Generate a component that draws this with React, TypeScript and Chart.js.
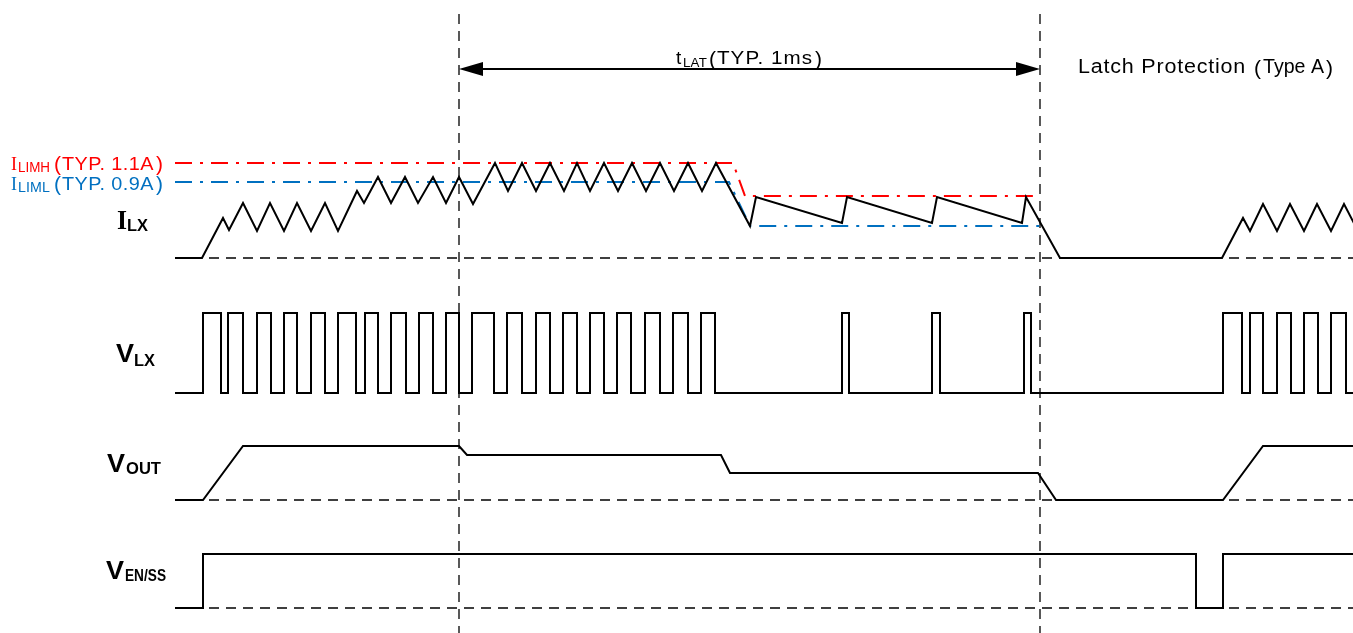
import React, { useEffect, useRef } from 'react';
import { Chart, registerables } from 'chart.js';
Chart.register(...registerables);

// Diagram domain: time axis 0..1353, level axis 0..633 (top = 0)
const X_MAX = 1353;
const Y_MAX = 633;

// I_LX inductor current waveform (time, level)
const ilxTimes = [
  175, 202, 223, 229, 243, 257, 270, 284, 297, 311,
  325, 338, 357, 364, 378, 391, 405, 418, 433, 446,
  459, 473, 495, 508, 522, 536, 550, 564, 577, 590,
  604, 618, 632, 646, 660, 674, 688, 702, 716, 750,
  756, 842, 847, 932, 937, 1022, 1026, 1060, 1222, 1243,
  1250, 1263, 1277, 1290, 1304, 1317, 1331, 1344, 1358,
];
const ilxLevels = [
  258, 258, 218, 230, 203, 231, 203, 231, 203, 231,
  203, 231, 191, 203, 177, 203, 177, 203, 177, 203,
  177, 204, 163, 191, 163, 191, 163, 191, 163, 191,
  163, 191, 163, 191, 163, 191, 163, 191, 163, 226,
  197, 223, 197, 223, 197, 223, 197, 258, 258, 218,
  231, 204, 231, 204, 231, 204, 231, 204, 231,
];

// V_LX switching pulses: [rise, fall]
const vlxLow = 393;
const vlxHigh = 313;
const vlxStart = 175;
const vlxPulses = [
  [203, 221], [228, 243], [257, 271], [284, 297], [311, 325], [338, 356], [365, 378],
  [391, 406], [419, 433], [446, 459], [472, 494], [507, 522], [536, 550], [563, 577],
  [590, 604], [617, 631], [645, 660], [673, 688], [701, 715], [842, 849], [932, 940],
  [1024, 1031], [1223, 1242], [1250, 1263], [1277, 1291], [1304, 1318], [1331, 1346],
];

// V_OUT
const voutTimes = [175, 203, 243, 459, 467, 721, 730, 1038, 1056, 1223, 1263, 1358];
const voutLevels = [500, 500, 446, 446, 455, 455, 473, 473, 500, 500, 446, 446];

// V_EN/SS (stepped)
const venTimes = [175, 203, 1196, 1223, 1358];
const venLevels = [608, 554, 608, 554, 554];

// Current limit thresholds
const ilimhTimes = [175, 733, 745, 1037];
const ilimhLevels = [163, 163, 196, 196];
const ilimlTimes = [175, 729, 750, 1040];
const ilimlLevels = [182, 182, 226, 226];

// Reference (ground) levels and event markers
const groundLevels = [258, 500, 608];
const groundStart = 175;
const markerTimes = [459, 1040];
const markerTop = 14;

// t_LAT arrow
const arrowStart = 461;
const arrowEnd = 1038;
const arrowLevel = 69;

// Labels
const signalMain = ['I', 'V', 'V', 'V'];
const signalSub = ['LX', 'LX', 'OUT', 'EN/SS'];
const limitSubs = ['LIMH', 'LIML'];
const limitTexts = ['TYP. 1.1A', 'TYP. 0.9A'];
const latTexts = ['t', 'LAT', 'TYP. 1ms'];
const latchTexts = ['Latch Protection', 'Type A'];

const RED = '#FF0000';
const BLUE = '#0070C0';
const BLACK = '#000000';
const SANS = '"Liberation Sans", Arial, "Noto Sans CJK JP", sans-serif';
const SERIF = '"Liberation Serif", "DejaVu Serif", serif';

const zip = (xs: number[], ys: number[]) => xs.map((x, i) => ({ x, y: ys[i] }));

function buildVlx() {
  const pts = [{ x: vlxStart, y: vlxLow }];
  vlxPulses.forEach(([r, f]) => {
    pts.push({ x: r, y: vlxHigh });
    pts.push({ x: f, y: vlxLow });
  });
  pts.push({ x: X_MAX, y: vlxLow });
  return pts;
}

function line(data: any[], color: string, width: number, dash: number[] = [], order = 0, stepped: any = false) {
  return {
    data,
    borderColor: color,
    backgroundColor: color,
    borderWidth: width,
    borderDash: dash,
    pointRadius: 0,
    fill: false,
    tension: 0,
    stepped,
    order,
    borderCapStyle: 'butt',
    borderJoinStyle: 'miter',
  };
}

type Run = { text: string; font: string; x: number; y: number; w: number; color: string };

const labelPlugin = {
  id: 'labels',
  afterDatasetsDraw(chart: any) {
    const { ctx, scales } = chart;
    const px = (v: number) => scales.x.getPixelForValue(v);
    const py = (v: number) => scales.y.getPixelForValue(v);

    // arrowheads
    ctx.save();
    ctx.fillStyle = BLACK;
    const ay = py(arrowLevel);
    const heads: [number, number][] = [[px(arrowStart), 1], [px(arrowEnd), -1]];
    heads.forEach(([x, dir]) => {
      ctx.beginPath();
      ctx.moveTo(x - dir * 2, ay);
      ctx.lineTo(x + dir * 22, ay - 7);
      ctx.lineTo(x + dir * 22, ay + 7);
      ctx.closePath();
      ctx.fill();
    });
    ctx.restore();

    const runs: Run[] = [];
    const bold = (s: number) => `bold ${s}px ${SANS}`;
    const boldSerif = (s: number) => `bold ${s}px ${SERIF}`;
    const paren = `21px ${SANS}`;
    // signal labels
    const mainX = [117, 116, 107, 106];
    const mainW = [10, 18, 18, 18];
    const mainBase = [229, 362, 472, 579];
    const subX = [127, 134, 126, 125];
    const subW = [21, 21, 35, 41];
    const subBase = [231, 366, 474, 581];
    signalMain.forEach((m, i) => {
      runs.push({ text: m, font: i === 0 ? boldSerif(28) : bold(26), x: mainX[i], y: mainBase[i], w: mainW[i], color: BLACK });
      runs.push({ text: signalSub[i], font: bold(17), x: subX[i], y: subBase[i], w: subW[i], color: BLACK });
    });
    // limit labels
    const limColors = [RED, BLUE];
    const limBase = [170, 190];
    limitSubs.forEach((s, i) => {
      const c = limColors[i];
      const b = limBase[i];
      runs.push({ text: 'I', font: `19px ${SERIF}`, x: 11, y: b, w: 6, color: c });
      runs.push({ text: s, font: `14px ${SANS}`, x: 18, y: b + 2, w: 32, color: c });
      runs.push({ text: '(', font: paren, x: 54, y: b + 1, w: 0, color: c });
      runs.push({ text: limitTexts[i], font: `19px ${SANS}`, x: 62, y: b, w: 92, color: c });
      runs.push({ text: ')', font: paren, x: 156, y: b + 1, w: 0, color: c });
    });
    // t_LAT
    runs.push({ text: latTexts[0], font: `19px ${SANS}`, x: 676, y: 64, w: 0, color: BLACK });
    runs.push({ text: latTexts[1], font: `13px ${SANS}`, x: 683, y: 67, w: 24, color: BLACK });
    runs.push({ text: '(', font: paren, x: 709, y: 66, w: 0, color: BLACK });
    runs.push({ text: latTexts[2], font: `19px ${SANS}`, x: 717, y: 64, w: 96, color: BLACK });
    runs.push({ text: ')', font: paren, x: 815, y: 66, w: 0, color: BLACK });
    // Latch text
    runs.push({ text: latchTexts[0], font: `20px ${SANS}`, x: 1078, y: 73, w: 168, color: BLACK });
    runs.push({ text: '(', font: paren, x: 1254, y: 75, w: 0, color: BLACK });
    runs.push({ text: latchTexts[1], font: `20px ${SANS}`, x: 1263, y: 73, w: 61, color: BLACK });
    runs.push({ text: ')', font: paren, x: 1326, y: 75, w: 0, color: BLACK });

    runs.forEach((r) => {
      ctx.save();
      ctx.font = r.font;
      ctx.fillStyle = r.color;
      ctx.textBaseline = 'alphabetic';
      ctx.textAlign = 'left';
      let mw = ctx.measureText(r.text).width;
      let sx = 1;
      if (r.w > 0 && mw > 0) {
        if (mw < r.w && r.text.length > 1 && 'letterSpacing' in ctx) {
          const ls = (0.5 * (r.w - mw)) / r.text.length;
          (ctx as any).letterSpacing = `${ls.toFixed(2)}px`;
          mw = ctx.measureText(r.text).width;
        }
        sx = r.w / mw;
      }
      ctx.translate(px(r.x), py(r.y));
      ctx.scale(sx, 1);
      ctx.fillText(r.text, 0, 0);
      ctx.restore();
    });
  },
};

const App = () => {
  const ref = useRef<HTMLCanvasElement>(null);
  useEffect(() => {
    const canvas = ref.current;
    if (!canvas) return;
    const datasets: any[] = [];
    groundLevels.forEach((g) => {
      datasets.push(line([{ x: groundStart, y: g }, { x: X_MAX, y: g }], BLACK, 1.3, [10, 7], 3));
    });
    markerTimes.forEach((t) => {
      datasets.push(line([{ x: t, y: markerTop }, { x: t, y: Y_MAX }], BLACK, 1.3, [10, 7], 3));
    });
    datasets.push(line(zip(ilimhTimes, ilimhLevels), RED, 2, [17, 8, 3, 8], 2));
    datasets.push(line(zip(ilimlTimes, ilimlLevels), BLUE, 2, [17, 8, 3, 8], 2));
    datasets.push(line([{ x: arrowStart + 10, y: arrowLevel }, { x: arrowEnd - 10, y: arrowLevel }], BLACK, 2, [], 1));
    datasets.push(line(zip(ilxTimes, ilxLevels), BLACK, 2, [], 0));
    datasets.push(line(buildVlx(), BLACK, 2, [], 0, true));
    datasets.push(line(zip(voutTimes, voutLevels), BLACK, 2, [], 0));
    datasets.push(line(zip(venTimes, venLevels), BLACK, 2, [], 0, true));

    const chart = new Chart(canvas, {
      type: 'line',
      data: { datasets },
      options: {
        responsive: false,
        animation: false,
        layout: { padding: 0 },
        plugins: { legend: { display: false }, tooltip: { enabled: false } },
        scales: {
          x: { type: 'linear', min: 0, max: X_MAX, display: false },
          y: { type: 'linear', min: 0, max: Y_MAX, reverse: true, display: false },
        },
        elements: { point: { radius: 0 }, line: { tension: 0 } },
      } as any,
      plugins: [labelPlugin],
    });
    return () => chart.destroy();
  }, []);
  return (
    <div style={{ position: 'fixed', left: 0, top: 0, width: 1353, height: 633, background: '#ffffff' }}>
      <canvas ref={ref} width={1353} height={633} style={{ display: 'block' }} />
    </div>
  );
};

export default App;
